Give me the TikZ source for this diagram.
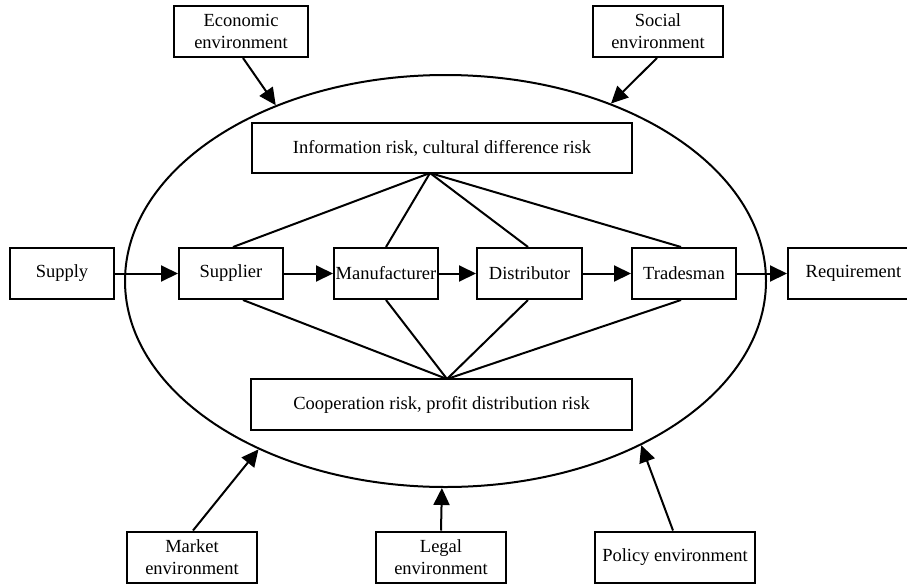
\documentclass[tikz,border=0pt]{standalone}
\usepackage{fontspec}
\setmainfont{Liberation Serif}
\usetikzlibrary{arrows.meta,shapes.geometric,calc}
\begin{document}
\begin{tikzpicture}[x=1pt,y=-1pt,
  box/.style={draw, line width=2pt, fill=white, inner sep=0pt, minimum height=51pt,
    align=center, font=\fontsize{18.5}{22}\selectfont},
  arr/.style={line width=2pt, -{Triangle[length=17pt,width=16pt]}},
  ln/.style={line width=2pt}]
\useasboundingbox (0,0) rectangle (907,584);
% big ellipse
\node[draw, ellipse, line width=2pt, minimum width=641pt, minimum height=412pt, inner sep=0pt] (ell) at (445.5,281) {};
% environment boxes
\node[box, minimum width=134pt] (econ) at (241,31.5) {Economic\\environment};
\node[box, minimum width=130pt] (social) at (658,31.5) {Social\\environment};
\node[box, minimum width=130pt] (market) at (192,557) {Market\\environment};
\node[box, minimum width=130pt] (legal) at (441,557) {Legal\\environment};
\node[box, minimum width=160pt] (policy) at (675,557) {Policy environment};
% risk boxes
\node[box, minimum width=380pt, minimum height=50pt] (info) at (442,148) {Information risk, cultural difference risk};
\node[box, minimum width=381pt] (coop) at (441.5,404.5) {Cooperation risk, profit distribution risk};
% chain
\node[box, minimum width=104pt] (supply) at (62,273.5) {Supply};
\node[box, minimum width=104pt] (supplier) at (231,273.5) {Supplier};
\node[box, minimum width=104pt] (manuf) at (386,273.5) {Manufacturer};
\node[box, minimum width=105pt] (dist) at (529.5,273.5) {Distributor};
\node[box, minimum width=104pt] (trades) at (684,273.5) {Tradesman};
\node[box, minimum width=131pt] (req) at (853.5,273.5) {Requirement};
% apexes
\coordinate (topApex) at (430,173);
\coordinate (botApex) at (447,379);
% flow arrows
\draw[arr] (supply) -- (supplier);
\draw[arr] (supplier) -- (manuf);
\draw[arr] (manuf) -- (dist);
\draw[arr] (dist) -- (trades);
\draw[arr] (trades) -- (req);
% risk links
\draw[ln] (topApex) -- ($(supplier.north)+(2,0)$);
\draw[ln] (topApex) -- (manuf.north);
\draw[ln] (topApex) -- ($(dist.north)+(-1.5,0)$);
\draw[ln] (topApex) -- ($(trades.north)+(-3,0)$);
\draw[ln] (botApex) -- ($(supplier.south)+(12,0)$);
\draw[ln] (botApex) -- (manuf.south);
\draw[ln] (botApex) -- ($(dist.south)+(-1.5,0)$);
\draw[ln] (botApex) -- ($(trades.south)+(-3,0)$);
% environment arrows
\draw[arr] ($(econ.south)+(2,0)$) -- (ell.134);
\draw[arr] ($(social.south)+(-1,0)$) -- (ell.47);
\draw[arr] ($(market.north)+(1,0)$) -- (ell.222);
\draw[arr] (legal.north) -- (ell.269);
\draw[arr] ($(policy.north)+(-2,0)$) -- (ell.320);
\end{tikzpicture}
\end{document}
